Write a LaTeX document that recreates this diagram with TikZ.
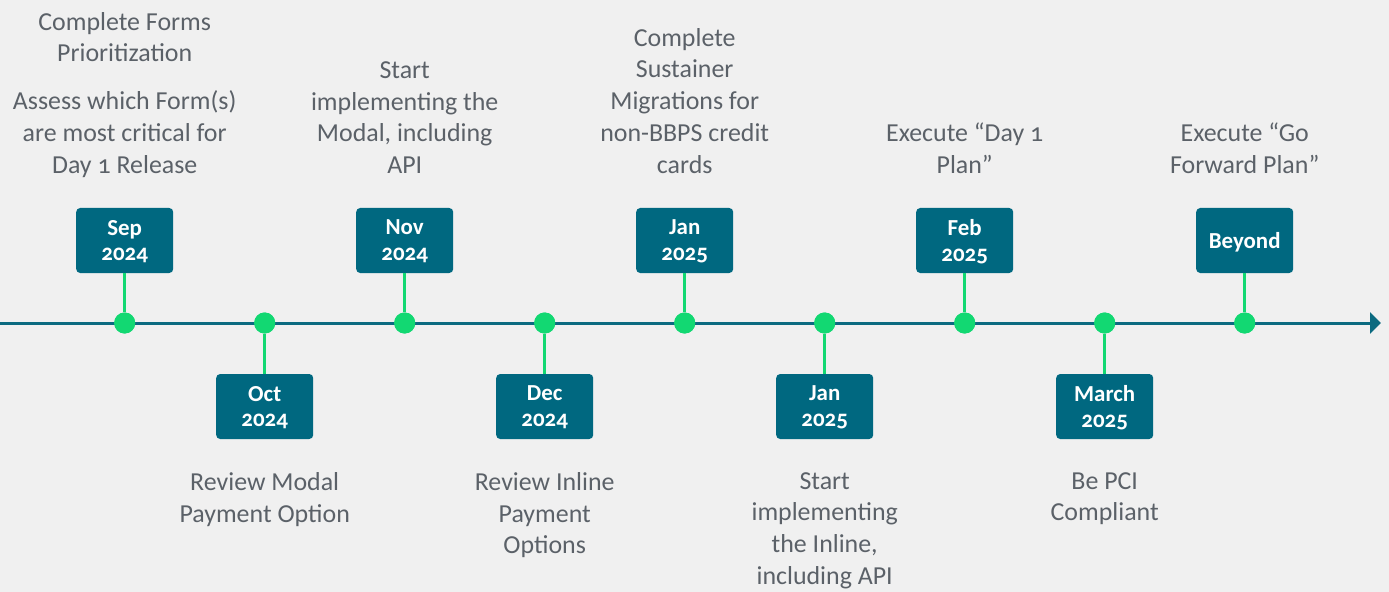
\documentclass[tikz,border=0pt]{standalone}
\usepackage{fontspec}
\setmainfont{Carlito}[Numbers=OldStyle]
\usetikzlibrary{arrows.meta}
\definecolor{bgcol}{HTML}{F0F0F0}
\definecolor{boxteal}{HTML}{006880}
\definecolor{linecol}{HTML}{0B6A80}
\definecolor{dotgreen}{HTML}{12D872}
\definecolor{txtgrey}{HTML}{5B6168}
\begin{document}
\begin{tikzpicture}[x=1bp,y=-1bp,
  datebox/.style={fill=boxteal, rounded corners=4bp, minimum width=97bp, minimum height=65bp,
    text=white, font=\bfseries\fontsize{23}{26}\selectfont, align=center, inner sep=0pt,
    text depth=-4bp},
  dot/.style={circle, fill=dotgreen, minimum size=21bp, inner sep=0pt},
  stem/.style={draw=dotgreen, line width=2.6bp},
  axis/.style={draw=linecol, line width=3bp, -{Triangle[length=11bp,width=21bp]}},
  desc/.style={text=txtgrey, font=\fontsize{26}{32}\selectfont, align=center, inner sep=0pt},
  updesc/.style={desc, anchor=south},
  downdesc/.style={desc, anchor=north},
]
\fill[bgcol] (0,0) rectangle (1389,592);
\useasboundingbox (0,0) rectangle (1389,592);

% axis
\coordinate (start) at (0,323);
\coordinate (end) at (1381,323);
\draw[axis] (start) -- (end);

% dots
\node[dot] (d1) at (124.7,323) {};
\node[dot] (d2) at (264.7,323) {};
\node[dot] (d3) at (404.7,323) {};
\node[dot] (d4) at (544.7,323) {};
\node[dot] (d5) at (684.7,323) {};
\node[dot] (d6) at (824.7,323) {};
\node[dot] (d7) at (964.7,323) {};
\node[dot] (d8) at (1104.7,323) {};
\node[dot] (d9) at (1244.7,323) {};

% boxes
\node[datebox] (b1) at (124.7,240.5) {Sep\\2024};
\node[datebox] (b2) at (264.7,406.5) {Oct\\2024};
\node[datebox] (b3) at (404.7,240.5) {Nov\\2024};
\node[datebox] (b4) at (544.7,406.5) {Dec\\2024};
\node[datebox] (b5) at (684.7,240.5) {Jan\\2025};
\node[datebox] (b6) at (824.7,406.5) {Jan\\2025};
\node[datebox] (b7) at (964.7,240.5) {Feb\\2025};
\node[datebox] (b8) at (1104.7,406.5) {March\\2025};
\node[datebox] (b9) at (1244.7,240.5) {Beyond};

% stems
\foreach \i in {1,3,5,7,9} \draw[stem] (b\i.south) -- (d\i.north);
\foreach \i in {2,4,6,8} \draw[stem] (b\i.north) -- (d\i.south);
\foreach \i in {1,...,9} \node[dot] at (d\i) {};

% descriptions
\node[updesc] (t1) at (124.7,178) {Complete Forms\\Prioritization\\[16bp]Assess which Form(s)\\are most critical for\\Day 1 Release};
\node[updesc] (t3) at (404.7,174) {Start\\implementing the\\Modal, including\\API};
\node[updesc] (t5) at (684.7,174) {Complete\\Sustainer\\Migrations for\\non-BBPS credit\\cards};
\node[updesc] (t7) at (964.7,174) {Execute “Day 1\\Plan”};
\node[updesc] (t9) at (1244.7,174) {Execute “Go\\Forward Plan”};

\node[downdesc] (t2) at (264.7,472) {Review Modal\\Payment Option};
\node[downdesc] (t4) at (544.7,472) {Review Inline\\Payment\\Options};
\node[downdesc] (t6) at (824.7,472) {Start\\implementing\\the Inline,\\including API};
\node[downdesc] (t8) at (1104.7,472) {Be PCI\\Compliant};
\end{tikzpicture}
\end{document}
